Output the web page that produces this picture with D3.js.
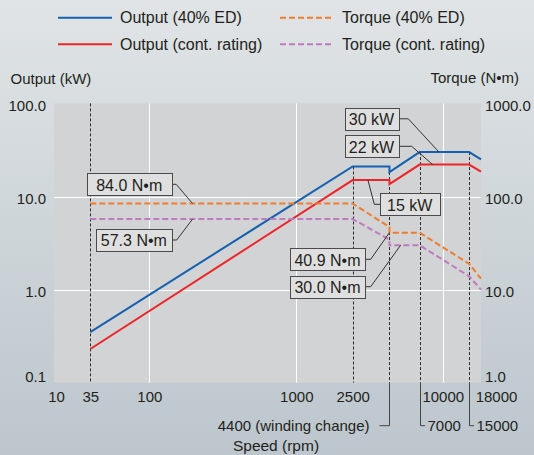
<!DOCTYPE html>
<html><head><meta charset="utf-8">
<script src="https://cdn.jsdelivr.net/npm/d3@7"></script>
<style>
html,body{margin:0;padding:0;}
body{width:534px;height:455px;overflow:hidden;}
text{font-family:"Liberation Sans",Arial,Helvetica,sans-serif;fill:#231f20;}
</style></head><body>
<svg id="chart" width="534" height="455"></svg>
<script>
// Speed axis (rpm)
const speedTicks = [10, 35, 100, 1000, 2500, 10000, 18000];
const speedMarks = [35, 2500, 4400, 7000, 15000];
const noteSpeeds = [4400, 7000, 15000];
const noteLabels = ["4400 (winding change)", "7000", "15000"];

// Output (kW) and torque (N•m) axes
const outputTicks = [0.1, 1, 10, 100];
const torqueTicks = [1, 10, 100, 1000];

// Curve break points
const curveSpeed = [35, 2500, 4400, 4400, 7000, 15000, 18000];
const outputEd   = [0.35, 21, 21, 18.3, 30, 30, 25];
const outputCont = [0.23, 15, 15, 13.6, 22, 22, 18.5];
const torqueEd   = [84.0, 84.0, 47.0, 40.9, 40.9, 18.9, 13.1];
const torqueCont = [57.3, 57.3, 34.4, 30.0, 30.0, 13.9, 10.0];

const seriesNames = ["Output (40% ED)", "Output (cont. rating)", "Torque (40% ED)", "Torque (cont. rating)"];

// Callouts: text, the point they mark, and which axis that point belongs to
const calloutText  = ["84.0 N•m", "57.3 N•m", "30 kW", "22 kW", "15 kW", "40.9 N•m", "30.0 N•m"];
const calloutSpeed = [197, 197, 9430, 8560, 3160, 4400, 5230];
const calloutValue = [84.0, 57.3, 30, 22, 15, 40.9, 30.0];
const calloutAxis  = ["torque", "torque", "output", "output", "output", "torque", "torque"];

// ---------------------------------------------------------------
const svg = d3.select("#chart");
const W = 534, H = 455;
const plot = {left: 54, right: 481, top: 103.4, bottom: 382.7};

const colors = {ed: "#1560b0", cont: "#ee2428", tqEd: "#f07c2c", tqCont: "#c07abf"};

const defs = svg.append("defs");
const bg = defs.append("linearGradient").attr("id", "bg").attr("x1", 0).attr("y1", 0).attr("x2", 0).attr("y2", 1);
bg.append("stop").attr("offset", "0%").attr("stop-color", "#e0e4e6");
bg.append("stop").attr("offset", "100%").attr("stop-color", "#bcc6cc");
svg.append("rect").attr("width", W).attr("height", H).attr("fill", "url(#bg)");

// Piecewise log scale for speed (low end of the axis is stretched)
const x = d3.scaleLog()
  .domain([10, 35, 100, 1000, 2500, 18000])
  .range([plot.left, 90.3, 149.3, 296.3, 352.7, plot.right]);
const yOut = d3.scaleLog().domain([0.1, 100]).range([plot.bottom, plot.top]);
const yTq = d3.scaleLog().domain([1, 1000]).range([plot.bottom, plot.top]);

svg.append("rect")
  .attr("x", plot.left).attr("y", plot.top)
  .attr("width", plot.right - plot.left).attr("height", plot.bottom - plot.top)
  .attr("fill", "#d2d3d4");

// Grid
const grid = svg.append("g").attr("stroke", "#ffffff").attr("stroke-width", 1);
[1, 10].forEach(v => grid.append("line")
  .attr("x1", plot.left).attr("x2", plot.right)
  .attr("y1", Math.round(yOut(v)) + 0.5).attr("y2", Math.round(yOut(v)) + 0.5));
[100, 1000, 10000].forEach(v => grid.append("line")
  .attr("y1", plot.top).attr("y2", plot.bottom)
  .attr("x1", Math.round(x(v)) + 0.5).attr("x2", Math.round(x(v)) + 0.5));

// Speed markers: dashed inside the plot, from the 40% ED curve (or top) down
const markTop = s => s === 35 ? plot.top
  : yOut(d3.min(outputEd.filter((v, i) => curveSpeed[i] === s)));
const marks = svg.append("g");
speedMarks.forEach(s => {
  const xx = Math.round(x(s)) + 0.5;
  marks.append("line").attr("x1", xx).attr("x2", xx)
    .attr("y1", markTop(s)).attr("y2", plot.bottom)
    .attr("stroke", "#2b2b2b").attr("stroke-width", 1).attr("stroke-dasharray", "3,2");
});

// Leaders for the speeds labelled below the axis
const noteY = 425.7;
noteSpeeds.forEach((s, i) => {
  const xx = Math.round(x(s)) + 0.5;
  const left = i === 0;
  const hookEnd = left ? xx - 10 : xx + 4.5;
  marks.append("path")
    .attr("d", `M${xx},${plot.bottom}V${noteY}H${hookEnd}`)
    .attr("fill", "none").attr("stroke", "#444").attr("stroke-width", 1);
  svg.append("text")
    .attr("x", left ? hookEnd - 10 : hookEnd + 2.5)
    .attr("y", noteY).attr("dy", "0.35em")
    .attr("text-anchor", left ? "end" : "start")
    .attr("font-size", 15)
    .text(noteLabels[i]);
});

// Curves
const series = [
  {values: outputEd, scale: yOut, color: colors.ed, dash: null},
  {values: outputCont, scale: yOut, color: colors.cont, dash: null},
  {values: torqueEd, scale: yTq, color: colors.tqEd, dash: "6,3"},
  {values: torqueCont, scale: yTq, color: colors.tqCont, dash: "6,3"}
];
series.forEach(sr => {
  const line = d3.line().x((d, i) => x(curveSpeed[i])).y(d => sr.scale(d));
  svg.append("path").datum(sr.values)
    .attr("d", line)
    .attr("fill", "none")
    .attr("stroke", sr.color)
    .attr("stroke-width", 2)
    .attr("stroke-dasharray", sr.dash);
});

// Axes
const fmt1 = d3.format(".1f");
const axLeft = svg.append("g").attr("transform", `translate(${plot.left},0)`)
  .call(d3.axisLeft(yOut).tickValues(outputTicks).tickFormat(fmt1).tickSize(0).tickPadding(8));
const axRight = svg.append("g").attr("transform", `translate(${plot.right},0)`)
  .call(d3.axisRight(yTq).tickValues(torqueTicks).tickFormat(fmt1).tickSize(0).tickPadding(4));
const axBottom = svg.append("g").attr("transform", `translate(0,${plot.bottom})`)
  .call(d3.axisBottom(x).tickValues(speedTicks).tickFormat(d3.format("d")).tickSize(0).tickPadding(9));

[axLeft, axRight, axBottom].forEach(ax => {
  ax.select(".domain").remove();
  ax.selectAll("text").attr("font-size", 15)
    .attr("font-family", '"Liberation Sans",Arial,sans-serif').attr("fill", "#231f20");
});
[axLeft, axRight].forEach(ax => {
  ax.selectAll(".tick text").attr("dy", (d, i) => i === 0 ? "-0.05em" : "0.48em");
});
axBottom.selectAll(".tick text").attr("dx", d => d === 10 ? 2 : d === 18000 ? 15 : 0);

// Axis titles
svg.append("text").attr("x", 10.5).attr("y", 78.3).attr("dy", "0.35em")
  .attr("font-size", 15).text("Output (kW)");
svg.append("text").attr("x", 519).attr("y", 77.5).attr("dy", "0.35em")
  .attr("text-anchor", "end").attr("font-size", 15).text("Torque (N•m)");
svg.append("text").attr("x", 276).attr("y", 445.5).attr("dy", "0.35em")
  .attr("text-anchor", "middle").attr("font-size", 15.5).text("Speed (rpm)");

// Legend
const legend = svg.append("g");
const legendPos = [[58, 17.7], [58, 44.3], [280, 17.7], [280, 44.3]];
series.forEach((sr, i) => {
  const [lx, ly] = legendPos[i];
  legend.append("line").attr("x1", lx).attr("x2", lx + 54).attr("y1", ly).attr("y2", ly)
    .attr("stroke", sr.color).attr("stroke-width", 2).attr("stroke-dasharray", sr.dash);
  legend.append("text").attr("x", lx + 62).attr("y", ly).attr("dy", "0.35em")
    .attr("font-size", 16).text(seriesNames[i]);
});

// Callout boxes (box rectangle, and which side the leader leaves from)
const calloutBox = [
  {x: 86.7, y: 173.3, w: 85, side: "right", elbow: 4.5},
  {x: 96, y: 229, w: 75.7, side: "right", elbow: 5},
  {x: 344.7, y: 107.8, w: 53.6, side: "right", elbow: 10},
  {x: 344.7, y: 135.3, w: 53.6, side: "right", elbow: 13.4},
  {x: 380, y: 193.3, w: 59.5, side: "left", elbow: 5.7},
  {x: 290, y: 248.3, w: 75, side: "right", elbow: 5.7},
  {x: 290, y: 275.7, w: 75, side: "right", elbow: 5.7}
];
const boxH = 22;
const callouts = svg.append("g");
calloutText.forEach((t, i) => {
  const b = calloutBox[i];
  const tx = x(calloutSpeed[i]);
  const ty = (calloutAxis[i] === "output" ? yOut : yTq)(calloutValue[i]);
  const my = b.y + boxH / 2;
  const sx = b.side === "right" ? b.x + b.w : b.x;
  const ex = b.side === "right" ? sx + b.elbow : sx - b.elbow;
  callouts.append("path")
    .attr("d", `M${sx},${my}H${ex}L${tx},${ty}`)
    .attr("fill", "none").attr("stroke", "#333").attr("stroke-width", 1);
  callouts.append("rect")
    .attr("x", Math.round(b.x) + 0.5).attr("y", Math.round(b.y) + 0.5)
    .attr("width", Math.round(b.w)).attr("height", boxH)
    .attr("fill", "#dfdfdf").attr("stroke", "#4a4a4a").attr("stroke-width", 1);
  callouts.append("text")
    .attr("x", b.x + b.w / 2).attr("y", my + 0.5).attr("dy", "0.36em")
    .attr("text-anchor", "middle").attr("font-size", 16).text(t);
});
</script>
</body></html>
